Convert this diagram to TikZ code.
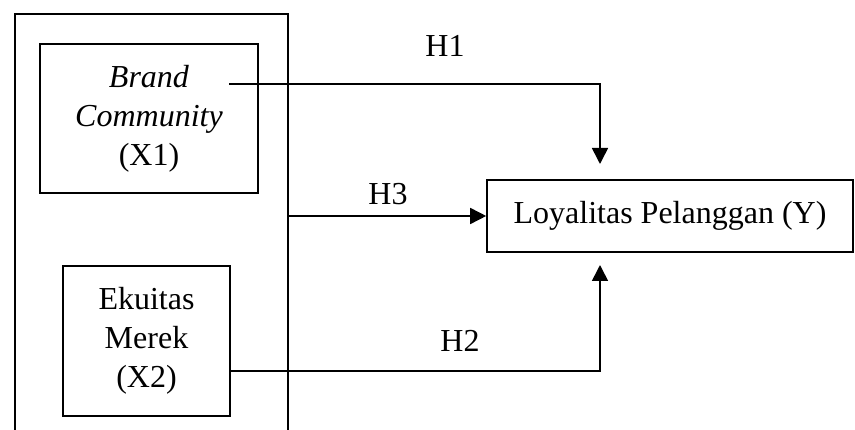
\documentclass[tikz,border=0pt]{standalone}
\usepackage{fontspec}
\setmainfont{Liberation Serif}
\usetikzlibrary{arrows.meta}
\begin{document}
\begin{tikzpicture}[x=1pt,y=-1pt,
  font=\fontsize{32}{39}\selectfont,
  line width=1.6pt,
  box/.style={draw, rectangle, align=center, inner sep=0pt},
  conn/.style={draw, -{Triangle[length=16pt,width=16pt]}},
  hlab/.style={anchor=base, inner sep=0pt}]
\useasboundingbox (0,0) rectangle (855,430);
% outer group (open at the bottom)
\node[draw, rectangle, inner sep=0pt, minimum width=273pt, minimum height=440pt, anchor=north west] (grp) at (14,13) {};
% boxes
\node[box, minimum width=218pt, minimum height=149pt] (x1) at (149,118.5) {\textit{Brand}\\\textit{Community}\\(X1)};
\node[box, minimum width=167pt, minimum height=150pt] (x2) at (146.5,341) {Ekuitas\\Merek\\(X2)};
\node[box, minimum width=366pt, minimum height=72pt] (y) at (670,216) {Loyalitas Pelanggan (Y)};
% connector end points
\coordinate (h1s) at (229,84);
\coordinate (h1e) at (600,164);
\coordinate (h2e) at (600,265);
% connectors
\draw[conn] (h1s) -| (h1e);
\draw[conn] (grp.east |- y.west) -- (y.west);
\draw[conn] (x2.east |- 0,371) -| (h2e);
% labels
\node[hlab] (l1) at (445,57) {H1};
\node[hlab] (l3) at (388,205) {H3};
\node[hlab] (l2) at (460,352) {H2};
\end{tikzpicture}
\end{document}
